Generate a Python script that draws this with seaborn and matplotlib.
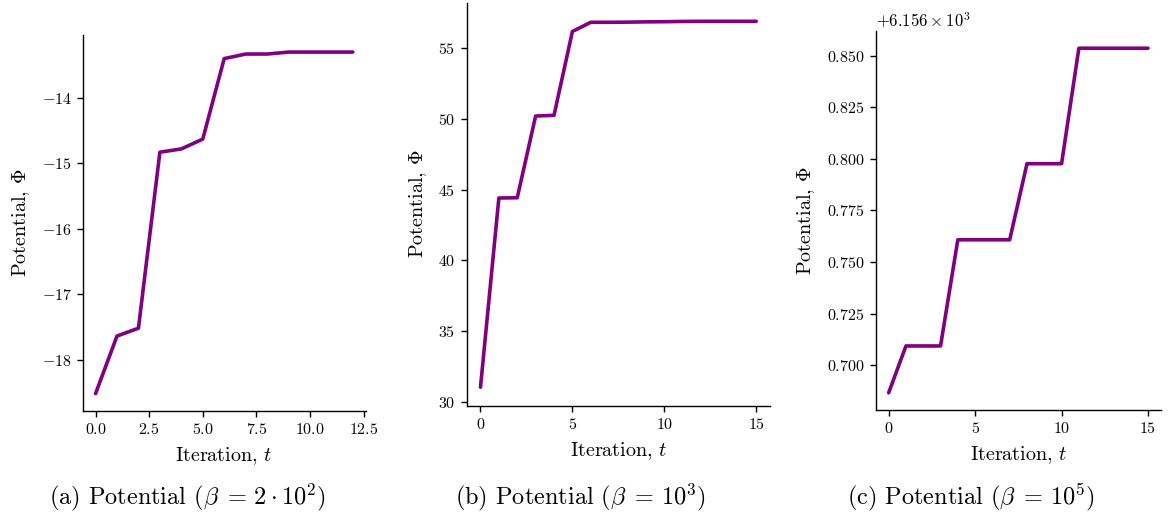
import numpy as np
import pandas as pd
import matplotlib
matplotlib.use("Agg")
import matplotlib.pyplot as plt
import seaborn as sns

# ---- data ----
t_a = list(range(13))
phi_a = [-18.52, -17.64, -17.52, -14.83, -14.78, -14.63, -13.40, -13.33, -13.33,
         -13.30, -13.30, -13.30, -13.30]

t_b = list(range(16))
phi_b = [31.05, 44.41, 44.43, 50.20, 50.25, 56.17, 56.82, 56.82, 56.83, 56.85,
         56.86, 56.88, 56.89, 56.89, 56.89, 56.89]

t_c = list(range(16))
phi_c = [6156.6866, 6156.7093, 6156.7093, 6156.7093, 6156.7608, 6156.7608,
         6156.7608, 6156.7608, 6156.7977, 6156.7977, 6156.7977, 6156.8537,
         6156.8537, 6156.8537, 6156.8537, 6156.8537]

xticks_a = [0.0, 2.5, 5.0, 7.5, 10.0, 12.5]
xticks_bc = [0, 5, 10, 15]

captions = [r"(a) Potential ($\beta\;=\,2 \cdot 10^2$)",
            r"(b) Potential ($\beta\;=\,10^3$)",
            r"(c) Potential ($\beta\;=\,10^5$)"]
xlabel = r"Iteration, $t$"
ylabel = r"Potential, $\Phi$"

sns.set_theme(style="ticks")
plt.rcParams.update({
    "font.family": "serif",
    "font.serif": ["cmr10"],
    "mathtext.fontset": "cm",
    "axes.formatter.use_mathtext": True,
    "axes.unicode_minus": True,
    "axes.edgecolor": "black",
    "axes.linewidth": 1.0,
    "xtick.color": "black",
    "ytick.color": "black",
    "text.color": "black",
    "axes.labelcolor": "black",
})

fig = plt.figure(figsize=(11.68, 5.19), dpi=100)

W, H = 1168.0, 519.0
def box(l, r, top, bot):
    return [l / W, (H - bot) / H, (r - l) / W, (bot - top) / H]

positions = [box(82.7, 365.7, 35, 410.7),
             box(466.7, 770.0, 3, 405.5),
             box(875.7, 1161.0, 31, 410.0)]
caption_x = [187.5, 580.0, 971.0]

datasets = [(t_a, phi_a), (t_b, phi_b), (t_c, phi_c)]
xticks = [xticks_a, xticks_bc, xticks_bc]
color = "#800080"

for i, ((t, phi), pos) in enumerate(zip(datasets, positions)):
    ax = fig.add_axes(pos)
    df = pd.DataFrame({"t": t, "phi": phi})
    sns.lineplot(data=df, x="t", y="phi", ax=ax, color=color, linewidth=2.6)
    sns.despine(ax=ax)
    ax.set_xticks(xticks[i])
    ax.set_xlabel(xlabel, fontsize=14.5, labelpad=6)
    ax.set_ylabel(ylabel, fontsize=14.5, labelpad=7)
    ax.tick_params(axis="both", which="major", labelsize=11.5, length=4,
                   width=1.0, direction="out", pad=4)
    ax.yaxis.get_offset_text().set_fontsize(12)
    fig.text(caption_x[i] / W, (H - 497) / H, captions[i], ha="center",
             va="center", fontsize=17.5)

fig.savefig("out.png", dpi=100)
